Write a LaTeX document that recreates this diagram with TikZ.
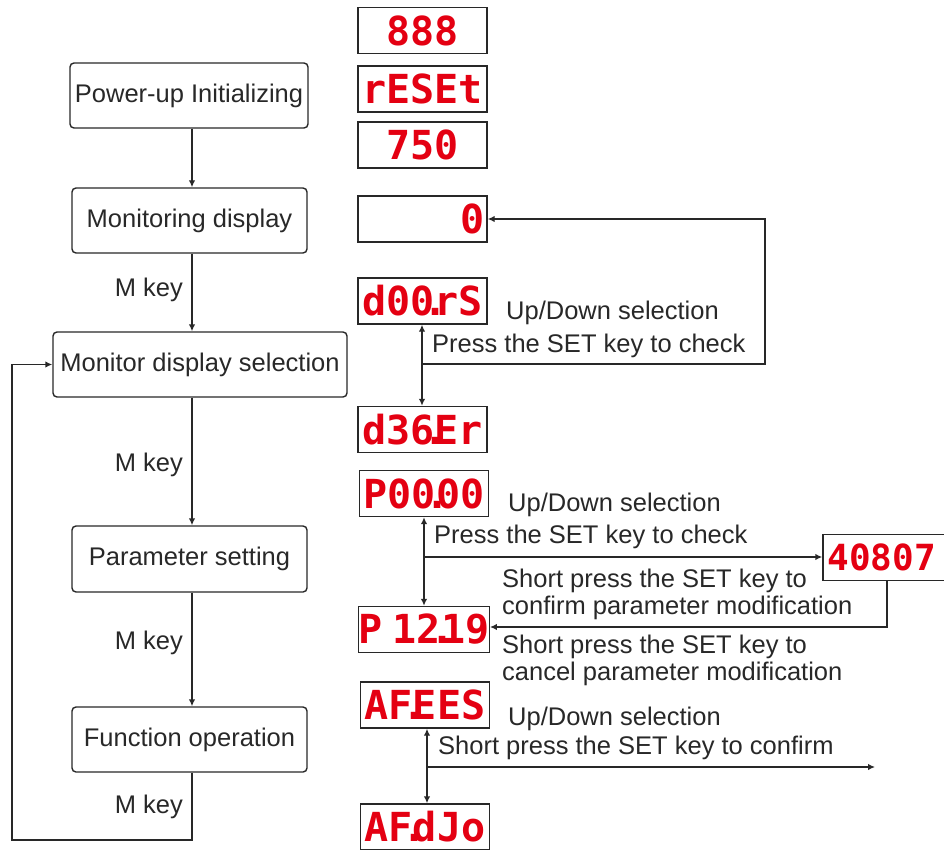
\documentclass[tikz,border=0pt]{standalone}
\usepackage{fontspec}
\setmainfont{Liberation Sans}
\newfontfamily\segfont{DejaVu Sans Mono}
\usetikzlibrary{arrows.meta}
\definecolor{ink}{RGB}{40,40,40}
\definecolor{segred}{RGB}{228,0,18}
% decimal point that sits in the corner of the previous digit cell
\newcommand\sgdot{\kern-.27em.\kern-.332em}
\begin{document}
\begin{tikzpicture}[x=1pt,y=-1pt,
  every node/.style={font=\fontsize{25.5}{27}\selectfont, text=ink},
  stepbox/.style={draw=ink, line width=1.4pt, rounded corners=4pt,
    minimum width=235pt, minimum height=65pt, inner sep=0pt},
  disp/.style={draw=ink, line width=1.4pt, minimum width=129pt,
    minimum height=46pt, inner sep=0pt, text=segred,
    font=\segfont\bfseries\fontsize{40}{40}\selectfont},
  lbl/.style={anchor=west, inner sep=0pt, align=left},
  keylbl/.style={anchor=east, inner sep=0pt},
  flow/.style={draw=ink, line width=1.4pt},
  tip/.style={-{Latex[length=7pt,width=6.5pt]}},
  dtip/.style={{Latex[length=7pt,width=6.5pt]}-{Latex[length=7pt,width=6.5pt]}}
]
\fill[white] (0,0) rectangle (944,850);
\useasboundingbox (0,0) rectangle (944,850);

% ---- operating flow (left column) ----
\node[stepbox, minimum width=238pt] (pow) at (189,95.5) {Power-up Initializing};
\node[stepbox] (mon) at (189.5,220.5) {Monitoring display};
\node[stepbox, minimum width=294pt] (sel) at (200,364.5) {Monitor display selection};
\node[stepbox, minimum height=66pt] (par) at (189.5,559) {Parameter setting};
\node[stepbox] (fun) at (189.5,739.5) {Function operation};

\coordinate (sp) at (192,0);
\coordinate (lb) at (192,840);
\coordinate (ll) at (12,840);

\draw[flow, tip] (pow.south -| sp) -- (mon.north -| sp);
\draw[flow, tip] (mon.south -| sp) -- (sel.north -| sp);
\draw[flow, tip] (sel.south -| sp) -- (par.north -| sp);
\draw[flow, tip] (par.south -| sp) -- (fun.north -| sp);
\draw[flow, tip] (fun.south -| sp) -- (lb) -- (ll) |- (sel.west);

\node[keylbl] (k1) at (183,290) {M key};
\node[keylbl] (k2) at (183,465) {M key};
\node[keylbl] (k3) at (183,643) {M key};
\node[keylbl] (k4) at (183,807) {M key};

% ---- panel read-outs (right column) ----
\node[disp] (d888) at (422.5,30.5) {888};
\node[disp] (dreset) at (422.5,89) {rESEt};
\node[disp] (d750) at (422.5,145) {750};
\node[disp, text width=124pt, align=right] (dzero) at (422.5,219) {0};

\node[disp] (dors) at (422.5,301) {d00\sgdot rS};
\node[disp] (dster) at (422.5,429.5) {d36\sgdot Er};

\node[disp] (p0000) at (424,493.5) {P00\sgdot 00};
\node[disp] (p1219) at (424,629.5) {P\kern-.35em{ }12\sgdot 19};
\node[disp, text width=120pt, align=left,
  font=\segfont\bfseries\fontsize{36}{36}\selectfont] (v40807) at (887.5,557.5) {40807};

\node[disp] (afees) at (425,705) {AF\sgdot EES};
\node[disp] (afdjo) at (425,827) {AF\sgdot dJo};

% monitor selection
\coordinate (j1) at (422,364);
\coordinate (c1) at (765,364);
\draw[flow, dtip] (dors.south -| j1) -- (dster.north -| j1);
\draw[flow, tip] (j1) -- (c1) |- (dzero.east);
\node[lbl] (t1) at (506,313) {Up/Down selection};
\node[lbl] (t2) at (432,346) {Press the SET key to check};

% parameter setting
\coordinate (j2) at (424,557);
\coordinate (c2) at (887,627);
\draw[flow, dtip] (p0000.south -| j2) -- (p1219.north -| j2);
\draw[flow, tip] (j2) -- (v40807.west |- j2);
\draw[flow, tip] (v40807.south -| c2) -- (c2) -- (p1219.east |- c2);
\node[lbl] (t3) at (508,505) {Up/Down selection};
\node[lbl] (t4) at (434,537) {Press the SET key to check};
\node[lbl] (t5) at (502,594) {Short press the SET key to\\confirm parameter modification};
\node[lbl] (t6) at (502,660.5) {Short press the SET key to\\cancel parameter modification};

% function operation
\coordinate (j3) at (427,767);
\coordinate (e3) at (875,767);
\draw[flow, dtip] (afees.south -| j3) -- (afdjo.north -| j3);
\draw[flow, tip] (j3) -- (e3);
\node[lbl] (t7) at (508,719) {Up/Down selection};
\node[lbl] (t8) at (438,748) {Short press the SET key to confirm};
\end{tikzpicture}
\end{document}
